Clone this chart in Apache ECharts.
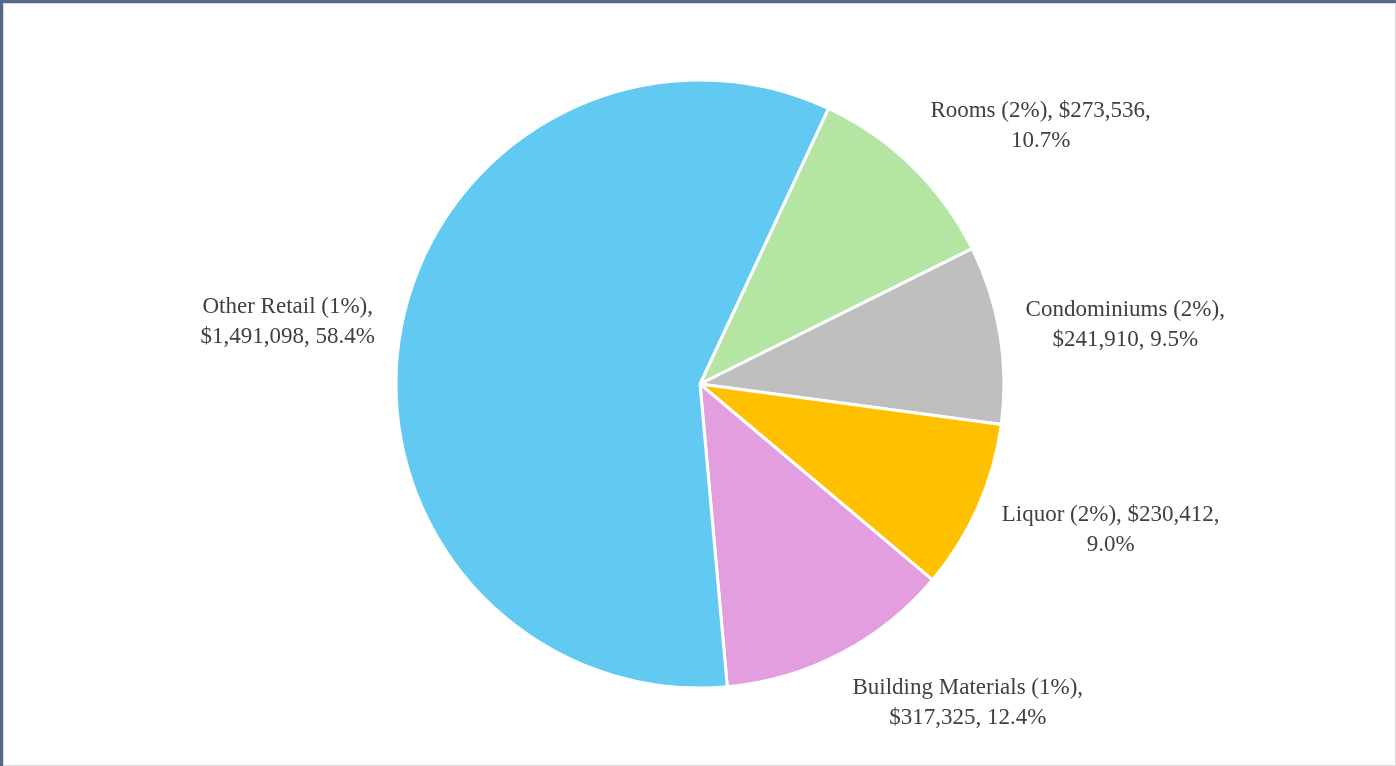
<!DOCTYPE html>
<html>
<head>
<meta charset="utf-8">
<script src="https://cdn.jsdelivr.net/npm/echarts@6/dist/echarts.min.js"></script>
<style>
  html, body { margin: 0; padding: 0; width: 1396px; height: 766px; overflow: hidden; background: #53688a; }
  #frame { position: absolute; left: 3px; top: 3px; width: 1393px; height: 763px; box-sizing: border-box; border: 1px solid #d9d9d9; background: #ffffff; }
  #chart { position: absolute; left: 0; top: 0; width: 1391px; height: 761px; }
</style>
</head>
<body>
<div id="frame"><div id="chart"></div></div>
<script>
// Data (order as drawn clockwise from the first slice)
const categories = ['Rooms (2%)', 'Condominiums (2%)', 'Liquor (2%)', 'Building Materials (1%)', 'Other Retail (1%)'];
const values = [273536, 241910, 230412, 317325, 1491098];
const colors = ['#B5E5A2', '#BFBFBF', '#FFC000', '#E29EDE', '#61C9F2'];

const START_ANGLE = 65;
const total = values.reduce((a, b) => a + b, 0);
const midCos = [];
(function () {
  let cum = 0;
  values.forEach(v => {
    const midClock = (90 - START_ANGLE) + 360 * (cum + v / 2) / total;
    midCos.push(Math.cos(midClock * Math.PI / 180));
    cum += v;
  });
})();

function fmtNum(n) { return n.toString().replace(/\B(?=(\d{3})+(?!\d))/g, ','); }

const chart = echarts.init(document.getElementById('chart'), null, { renderer: 'canvas' });
chart.setOption({
  animation: false,
  backgroundColor: '#ffffff',
  series: [{
    type: 'pie',
    center: [696, 380],
    radius: 304,
    startAngle: START_ANGLE,
    clockwise: true,
    avoidLabelOverlap: false,
    percentPrecision: 1,
    data: categories.map((c, i) => ({ name: c, value: values[i], itemStyle: { color: colors[i] } })),
    itemStyle: { borderColor: '#ffffff', borderWidth: 3 },
    label: {
      show: true,
      position: 'outside',
      distanceToLabelLine: 0,
      fontFamily: '"Liberation Serif", "Times New Roman", serif',
      fontSize: 23,
      lineHeight: 30,
      color: '#404040',
      formatter: function (p) {
        const first = p.name + ', $' + fmtNum(p.value) + ',';
        const pct = p.percent.toFixed(1) + '%';
        if (first.length <= 24) return first + '\n' + pct;
        return p.name + ',\n$' + fmtNum(p.value) + ', ' + pct;
      }
    },
    labelLine: { show: false, length: 26, length2: 0 },
    labelLayout: function (params) {
      const r = params.labelRect;
      const c = midCos[params.dataIndex];
      return {
        x: r.x + r.width / 2,
        y: r.y + r.height / 2 - c * r.height / 2,
        align: 'center',
        verticalAlign: 'middle',
        hideOverlap: false
      };
    },
    emphasis: { disabled: true }
  }]
});
</script>
</body>
</html>
